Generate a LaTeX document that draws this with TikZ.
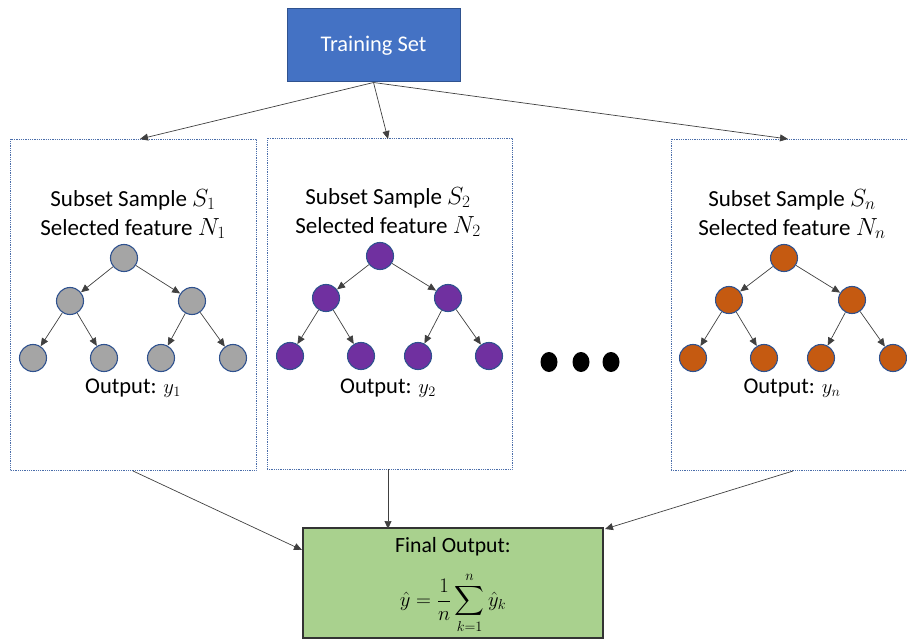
\documentclass[tikz,border=0pt]{standalone}
\usepackage{amsmath}
\usepackage{fontspec}
\setmainfont{Carlito}
\usetikzlibrary{arrows.meta,shapes.geometric}
\definecolor{tsblue}{HTML}{4472C4}
\definecolor{tsborder}{HTML}{2F528F}
\definecolor{dotblue}{HTML}{4A6DAA}
\definecolor{greyfill}{HTML}{A5A5A5}
\definecolor{purplefill}{HTML}{7030A0}
\definecolor{orangefill}{HTML}{C55A11}
\definecolor{greenfill}{HTML}{A9D18E}
\definecolor{linegrey}{HTML}{404040}
\tikzset{
  x=1bp, y=-1bp,
  tip/.tip={Triangle[length=8bp,width=7bp]},
  conn/.style={draw=linegrey, line width=0.7bp, -tip},
  panel/.style={draw=dotblue, line width=1bp, dash pattern=on 1bp off 0.8bp,
    minimum width=245bp, minimum height=331bp, inner sep=0pt},
  tnode/.style={circle, draw=tsborder, line width=1.1bp, minimum size=27bp, inner sep=0pt},
  gnode/.style={tnode, fill=greyfill},
  pnode/.style={tnode, fill=purplefill},
  onode/.style={tnode, fill=orangefill},
  head/.style={align=center, font=\fontsize{23bp}{29bp}\selectfont, inner sep=0pt},
  outtxt/.style={font=\fontsize{22.5bp}{26bp}\selectfont, inner sep=0pt},
  bigdot/.style={ellipse, fill=black, minimum width=17bp, minimum height=20bp, inner sep=0pt},
}
\begin{document}
\begin{tikzpicture}
\useasboundingbox (0,0) rectangle (907,639);
% top box
\node[draw=tsborder, fill=tsblue, line width=1bp, minimum width=173bp, minimum height=73bp,
  text=white, font=\fontsize{22.4bp}{26bp}\selectfont] (ts) at (373.5,45.5) {Training Set};
% panels
\node[panel] (p1) at (133.5,305) {};
\node[panel] (p2) at (389.5,304) {};
\node[panel] (pn) at (793.5,305) {};
\coordinate (p1t) at (140,139);
\coordinate (p2t) at (388,139);
\coordinate (pnt) at (788,139);
\coordinate (p1b) at (133,471);
\coordinate (p2b) at (388,469);
\coordinate (pnb) at (793,471);
% headings
\node[head] (h1) at (133,214) {Subset Sample $S_1$\\Selected feature $N_1$};
\node[head] (h2) at (388,212) {Subset Sample $S_2$\\Selected feature $N_2$};
\node[head] (hn) at (792,214) {Subset Sample $S_n$\\Selected feature $N_n$};
% tree 1
\node[gnode] (a0) at (124,258) {};
\node[gnode] (a1) at (70,301) {};
\node[gnode] (a2) at (192,301) {};
\node[gnode] (a3) at (33,358) {};
\node[gnode] (a4) at (104,358) {};
\node[gnode] (a5) at (161,358) {};
\node[gnode] (a6) at (233,358) {};
% tree 2
\node[pnode] (b0) at (380,256) {};
\node[pnode] (b1) at (326,298) {};
\node[pnode] (b2) at (448,298) {};
\node[pnode] (b3) at (290,356) {};
\node[pnode] (b4) at (361,356) {};
\node[pnode] (b5) at (418,356) {};
\node[pnode] (b6) at (489,356) {};
% tree n
\node[onode] (c0) at (784,258) {};
\node[onode] (c1) at (729,300) {};
\node[onode] (c2) at (852,300) {};
\node[onode] (c3) at (693,358) {};
\node[onode] (c4) at (764,358) {};
\node[onode] (c5) at (821,358) {};
\node[onode] (c6) at (893,358) {};
\foreach \t in {a,b,c}{
  \draw[conn] (\t0) -- (\t1);
  \draw[conn] (\t0) -- (\t2);
  \draw[conn] (\t1) -- (\t3);
  \draw[conn] (\t1) -- (\t4);
  \draw[conn] (\t2) -- (\t5);
  \draw[conn] (\t2) -- (\t6);
}
% outputs
\node[outtxt] (o1) at (133,388) {Output: $y_1$};
\node[outtxt] (o2) at (388,388) {Output: $y_2$};
\node[outtxt] (on) at (792,388) {Output: $y_n$};
% dots
\node[bigdot] (d1) at (549,362) {};
\node[bigdot] (d2) at (581,362) {};
\node[bigdot] (d3) at (611,362) {};
% final box
\node[draw=black!80, fill=greenfill, line width=1.2bp, minimum width=300bp, minimum height=110bp,
  inner sep=0pt] (fin) at (453,583) {};
\node[font=\fontsize{21.7bp}{26bp}\selectfont, inner sep=0pt] (ft) at (453,547) {Final Output:};
\node[font=\fontsize{21bp}{25bp}\selectfont, inner sep=0pt] (ff) at (453,603)
  {$\displaystyle \hat{y}=\frac{1}{n}\sum_{k=1}^{n}\hat{y}_k$};
\coordinate (f1) at (302,550);
\coordinate (f2) at (388,529);
\coordinate (fn) at (605,529);
% connectors
\draw[conn] (ts.south) -- (p1t);
\draw[conn] (ts.south) -- (p2t);
\draw[conn] (ts.south) -- (pnt);
\draw[conn] (p1b) -- (f1);
\draw[conn] (p2b) -- (f2);
\draw[conn] (pnb) -- (fn);
\end{tikzpicture}
\end{document}
